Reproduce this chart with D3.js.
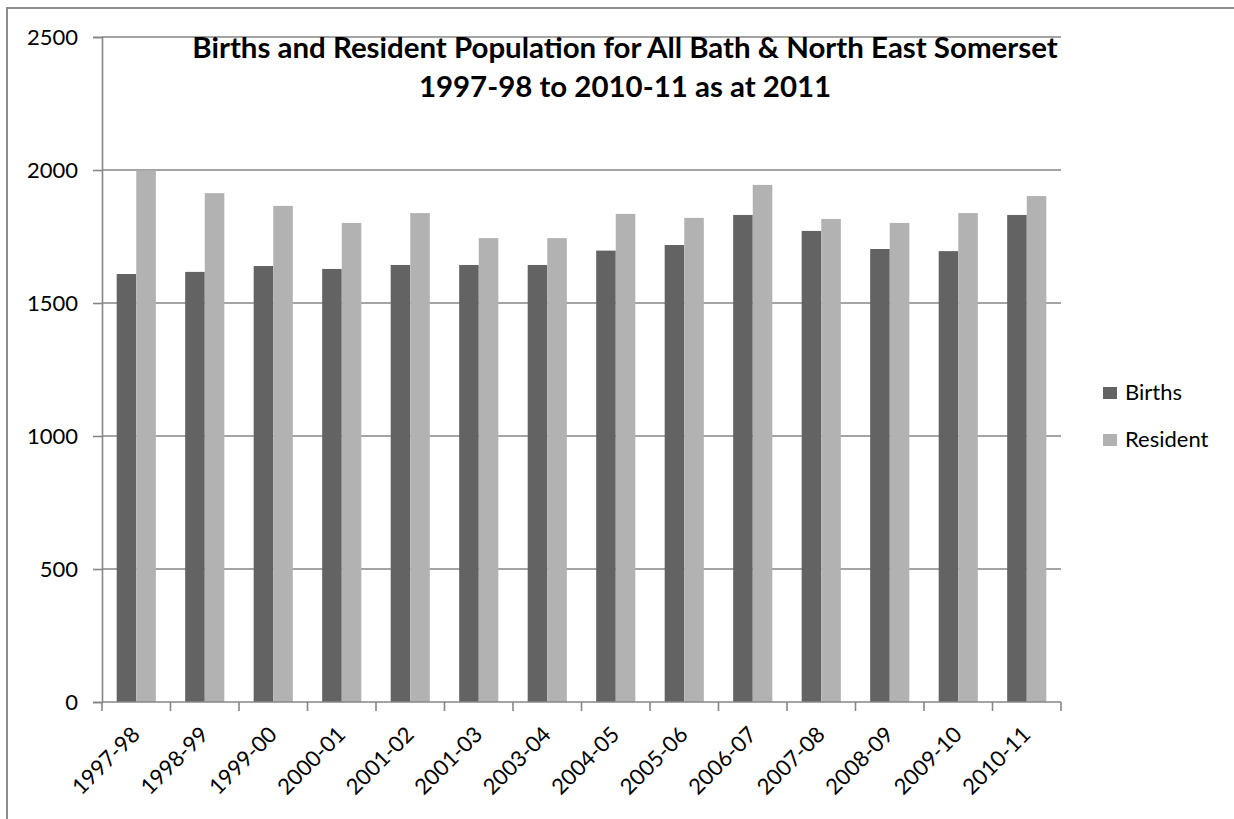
<!DOCTYPE html>
<html>
<head>
<meta charset="utf-8">
<script src="https://cdn.jsdelivr.net/npm/d3@7"></script>
<style>
  html, body { margin: 0; padding: 0; background: #fff; }
  svg { display: block; }
  text { font-family: Lato, "Open Sans", sans-serif; fill: #000; }
</style>
</head>
<body>
<svg id="chart" width="1234" height="819"></svg>
<script>
const categories = ["1997-98","1998-99","1999-00","2000-01","2001-02","2001-03","2003-04","2004-05","2005-06","2006-07","2007-08","2008-09","2009-10","2010-11"];
const seriesNames = ["Births","Resident"];
const births   = [1609,1617,1639,1628,1643,1643,1643,1697,1718,1831,1771,1703,1695,1831];
const resident = [1998,1913,1865,1801,1838,1744,1744,1835,1820,1944,1816,1801,1838,1902];
const yTicks = [0,500,1000,1500,2000,2500];
const titleLines = ["Births and Resident Population for All Bath & North East Somerset","1997-98 to 2010-11 as at 2011"];
const colors = {"Births":"#636363","Resident":"#b2b2b2"};

(function(){
const svg = d3.select("#chart");
const W = 1234, H = 819;
const pLeft = 102, pRight = 1061, pTop = 37, pBottom = 702;

svg.append("path")
  .attr("d", `M7,${H} L7,8 L${W},8`)
  .attr("fill","none").attr("stroke","#8c8c8c").attr("stroke-width",2);

const y = d3.scaleLinear().domain([0,2500]).range([pBottom, pTop]);
const x0 = d3.scaleBand().domain(categories).range([pLeft, pRight]).padding(0);
const bw = x0.bandwidth();
const gap = bw * 1.5 / 3.5;
const x1 = d3.scaleBand().domain(seriesNames).range([gap/2, bw - gap/2]).padding(0);

svg.append("g").selectAll("line").data(yTicks.filter(d => d > 0)).join("line")
  .attr("x1", pLeft).attr("x2", pRight)
  .attr("y1", d => y(d)).attr("y2", d => y(d))
  .attr("stroke","#868686").attr("stroke-width",1.6);

const data = categories.map((c,i) => ({cat:c, values:[{s:"Births",v:births[i]},{s:"Resident",v:resident[i]}]}));
svg.append("g").selectAll("g").data(data).join("g")
  .attr("transform", d => `translate(${x0(d.cat)},0)`)
  .selectAll("rect").data(d => d.values).join("rect")
  .attr("x", d => x1(d.s)).attr("width", x1.bandwidth())
  .attr("y", d => y(d.v)).attr("height", d => pBottom - y(d.v))
  .attr("fill", d => colors[d.s]);

const yAxis = svg.append("g").attr("transform", `translate(${pLeft},0)`)
  .call(d3.axisLeft(y).tickValues(yTicks).tickSize(9).tickPadding(15).tickFormat(d3.format("d")));
yAxis.select(".domain").attr("stroke","#868686").attr("stroke-width",1.6);
yAxis.selectAll(".tick line").attr("stroke","#868686").attr("stroke-width",1.6);
yAxis.selectAll(".tick text").attr("font-size", 22).attr("font-family","Lato, sans-serif").attr("fill","#111");

svg.append("line").attr("x1", pLeft).attr("x2", pRight).attr("y1", pBottom).attr("y2", pBottom)
  .attr("stroke","#868686").attr("stroke-width",1.6);
const bounds = categories.map(c => x0(c)).concat([pRight]);
svg.append("g").selectAll("line").data(bounds).join("line")
  .attr("x1", d => d).attr("x2", d => d).attr("y1", pBottom).attr("y2", pBottom + 9)
  .attr("stroke","#868686").attr("stroke-width",1.6);

svg.append("g").selectAll("text").data(categories).join("text")
  .attr("transform", d => `translate(${x0(d) + bw/2 + 5},${pBottom + 34}) rotate(-45)`)
  .attr("text-anchor","end")
  .attr("font-size", 22).attr("fill","#111")
  .text(d => d);

const tY = [58, 97];
const titleSel = svg.append("g").selectAll("text").data(titleLines).join("text")
  .attr("x", 625).attr("y", (d,i) => tY[i])
  .attr("text-anchor","middle").attr("font-weight","bold")
  .attr("font-size", 24).text(d => d);
const len = titleSel.nodes()[0].getComputedTextLength();
titleSel.attr("font-size", 24 * 866 / len);

const leg = svg.append("g");
seriesNames.forEach((s,i) => {
  const yy = 392 + i*47;
  leg.append("rect").attr("x",1103).attr("y", yy - 5).attr("width",14).attr("height",12).attr("fill", colors[s]);
  leg.append("text").attr("x",1125).attr("y", yy + 8).attr("font-size",22).attr("fill","#111").text(s);
});
})();
</script>
</body>
</html>
